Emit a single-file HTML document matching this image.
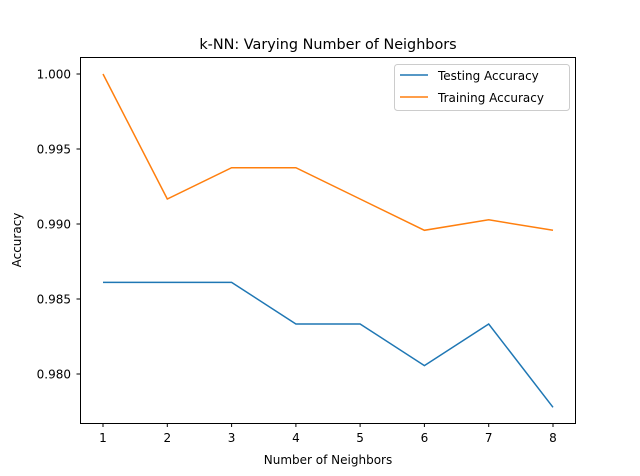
<!DOCTYPE html>
<html><head><meta charset="utf-8"><style>body{margin:0;background:#fff}svg{display:block}</style></head>
<body>
<svg width="640" height="476" viewBox="0 0 640 476" xmlns="http://www.w3.org/2000/svg" font-family="DejaVu Sans, Liberation Sans, sans-serif">
<rect width="640" height="476" fill="#fff"/>
<text x="328" y="49" font-size="14.4" text-anchor="middle">k-NN: Varying Number of Neighbors</text>
<g stroke="#000" stroke-width="1">
<line x1="103" y1="423.5" x2="103" y2="427"/><line x1="167.3" y1="423.5" x2="167.3" y2="427"/><line x1="231.6" y1="423.5" x2="231.6" y2="427"/><line x1="295.9" y1="423.5" x2="295.9" y2="427"/><line x1="360.1" y1="423.5" x2="360.1" y2="427"/><line x1="424.4" y1="423.5" x2="424.4" y2="427"/><line x1="488.7" y1="423.5" x2="488.7" y2="427"/><line x1="553" y1="423.5" x2="553" y2="427"/>
<line x1="76.5" y1="74" x2="80" y2="74"/><line x1="76.5" y1="149" x2="80" y2="149"/><line x1="76.5" y1="224" x2="80" y2="224"/><line x1="76.5" y1="299" x2="80" y2="299"/><line x1="76.5" y1="374" x2="80" y2="374"/>
</g>
<g font-size="12" text-anchor="middle">
<text x="103" y="442">1</text><text x="167.3" y="442">2</text><text x="231.6" y="442">3</text><text x="295.9" y="442">4</text><text x="360.1" y="442">5</text><text x="424.4" y="442">6</text><text x="488.7" y="442">7</text><text x="553" y="442">8</text>
</g>
<g font-size="12" text-anchor="end">
<text x="71" y="78.5">1.000</text><text x="71" y="153.5">0.995</text><text x="71" y="228.5">0.990</text><text x="71" y="303.5">0.985</text><text x="71" y="378.5">0.980</text>
</g>
<text x="328" y="464" font-size="12" text-anchor="middle">Number of Neighbors</text>
<text transform="translate(21,240) rotate(-90)" font-size="12" text-anchor="middle">Accuracy</text>
<polyline fill="none" stroke="#ff7f0e" stroke-width="1.5" points="103,74 167.3,199 231.6,167.75 295.9,167.75 360.1,199 424.4,230.3 488.7,219.8 553,230.3"/>
<polyline fill="none" stroke="#1f77b4" stroke-width="1.5" points="103,282.4 167.3,282.4 231.6,282.4 295.9,324 360.1,324 424.4,365.6 488.7,324 553,407.3"/>
<rect x="80.5" y="57.5" width="495" height="366" fill="none" stroke="#000" stroke-width="1"/>
<rect x="394.5" y="64.5" width="175" height="46" rx="3" fill="#fff" fill-opacity="0.8" stroke="#ccc"/>
<line x1="400" y1="75" x2="428" y2="75" stroke="#1f77b4" stroke-width="1.5"/>
<line x1="400" y1="97" x2="428" y2="97" stroke="#ff7f0e" stroke-width="1.5"/>
<text x="438" y="80" font-size="12">Testing Accuracy</text>
<text x="438" y="102" font-size="12">Training Accuracy</text>
</svg>
</body></html>
